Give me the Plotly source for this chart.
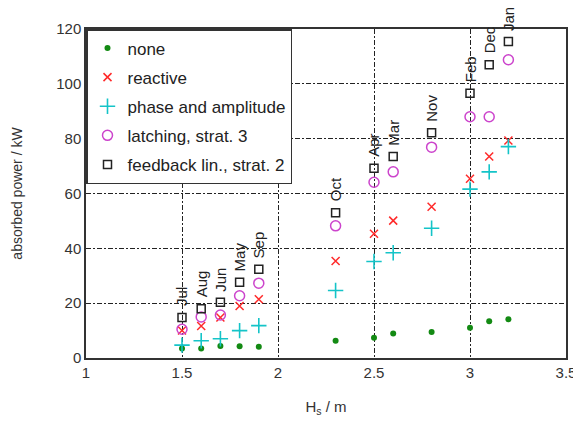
import plotly.graph_objects as go

hs = [1.5, 1.6, 1.7, 1.8, 1.9, 2.3, 2.5, 2.6, 2.8, 3.0, 3.1, 3.2]
months = ["Jul", "Aug", "Jun", "May", "Sep", "Oct", "Apr", "Mar", "Nov", "Feb", "Dec", "Jan"]
none_p = [3.5, 3.5, 4.4, 4.3, 4.1, 6.3, 7.4, 8.9, 9.5, 11.0, 13.4, 14.1]
reactive = [10.0, 11.7, 14.8, 19.0, 21.4, 35.4, 45.3, 50.1, 55.2, 65.4, 73.5, 79.3]
phase_amp = [4.7, 6.3, 7.0, 10.0, 11.8, 24.6, 35.2, 38.4, 47.3, 61.6, 67.9, 77.1]
latching = [10.5, 15.0, 15.7, 22.7, 27.3, 48.2, 64.1, 67.9, 76.9, 88.0, 88.0, 108.8]
feedback = [14.8, 18.0, 20.3, 27.6, 32.4, 53.0, 69.2, 73.5, 82.2, 96.6, 107.0, 115.4]

FONT = "Liberation Sans, Arial, sans-serif"

fig = go.Figure()
fig.add_trace(go.Scatter(x=hs, y=none_p, mode="markers", name="none", legendgroup="a",
                         marker=dict(symbol="circle", size=6, color="#138a13")))
fig.add_trace(go.Scatter(x=hs, y=reactive, mode="markers", name="reactive", legendgroup="b",
                         marker=dict(symbol="x-thin-open", size=8, color="#ff2a2a",
                                     line=dict(width=1.5, color="#ff2a2a"))))
fig.add_trace(go.Scatter(x=hs, y=phase_amp, mode="markers", name="phase and amplitude", legendgroup="c",
                         marker=dict(symbol="cross-thin-open", size=11, color="#14c4c8",
                                     line=dict(width=1.6, color="#14c4c8"))))
fig.add_trace(go.Scatter(x=hs, y=latching, mode="markers", name="latching, strat. 3", legendgroup="d",
                         marker=dict(symbol="circle-open", size=10, color="#cc44cc",
                                     line=dict(width=1.5, color="#cc44cc"))))
fig.add_trace(go.Scatter(x=hs, y=feedback, mode="markers", name="feedback lin., strat. 2", legendgroup="e",
                         marker=dict(symbol="square-open", size=8, color="#222222",
                                     line=dict(width=1.5, color="#222222"))))

for x, y, m in zip(hs, feedback, months):
    fig.add_annotation(x=x, y=y, text=m, textangle=-90, showarrow=False,
                       xanchor="center", yanchor="bottom", yshift=9,
                       font=dict(family=FONT, size=15, color="#222222"))

grid = dict(showgrid=True, gridcolor="#222222", gridwidth=1.3, griddash="5px,2px,2px,2px",
            showline=True, linecolor="#333333", linewidth=1.5, mirror=True,
            zeroline=False, ticks="", automargin=False,
            tickfont=dict(family=FONT, size=15, color="#333333"))

fig.update_xaxes(range=[1, 3.5], dtick=0.5, tick0=1, **grid,
                 title=dict(text="H<sub>s</sub> / m", font=dict(family=FONT, size=15, color="#333333"),
                            standoff=24))
fig.update_yaxes(range=[0, 120], dtick=20, tick0=0, **grid,
                 title=dict(text="absorbed power / kW", font=dict(family=FONT, size=14, color="#333333"),
                            standoff=30))

fig.update_layout(
    width=573, height=409,
    margin=dict(l=78, r=15, t=21, b=59),
    plot_bgcolor="white", paper_bgcolor="white",
    font=dict(family=FONT, color="#333333"),
    legend=dict(x=0, y=1, xanchor="left", yanchor="top", bgcolor="white",
                bordercolor="#333333", borderwidth=1.5, tracegroupgap=4,
                font=dict(family=FONT, size=17, color="#222222"), itemwidth=30),
)

fig.write_html("out.html")
